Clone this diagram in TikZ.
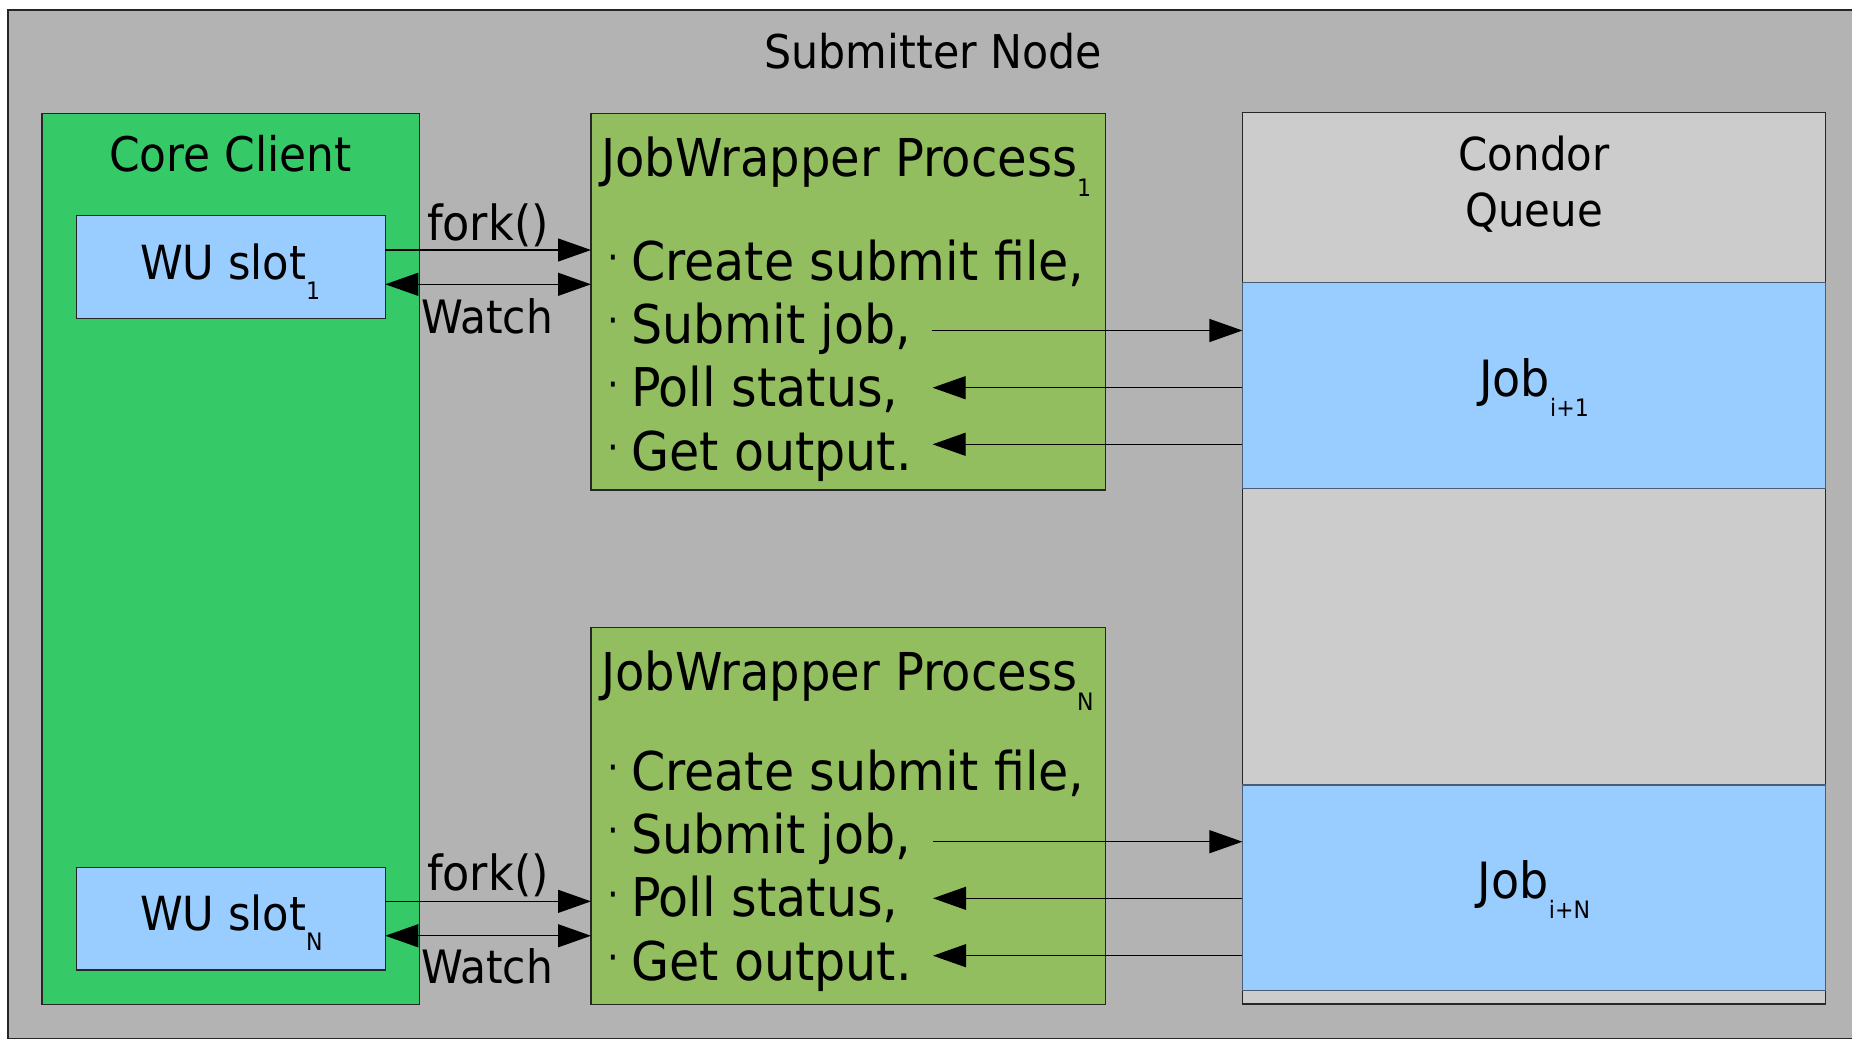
\documentclass[tikz,border=0pt]{standalone}
\usepackage{fontspec}
\setmainfont{DejaVu Sans}[FakeStretch=0.92]
\usetikzlibrary{arrows.meta}
\definecolor{outergray}{HTML}{B3B3B3}
\definecolor{coregreen}{HTML}{35C968}
\definecolor{jwgreen}{HTML}{93BE5F}
\definecolor{slotblue}{HTML}{99CCFF}
\definecolor{queuegray}{HTML}{CCCCCC}
\definecolor{bandline}{HTML}{4A5D73}
\newcommand\mysub[1]{\raisebox{-20pt}{\fontsize{24}{24}\selectfont #1}}
\newcommand\bul{\makebox[23.4pt][l]{\raisebox{8.7pt}{\fontsize{40}{40}\selectfont ·}}}
\begin{document}
\begin{tikzpicture}[x=1pt,y=-1pt,
  box/.style={draw=black!85, line width=1.2pt, rectangle, inner sep=0pt, outer sep=0pt, anchor=north west},
  band/.style={box, draw=bandline, fill=slotblue},
  txt/.style={inner sep=0pt, outer sep=0pt, text=black},
  lab/.style={txt, font=\fontsize{47}{47}\selectfont},
  body/.style={txt, font=\fontsize{53.4}{53.4}\selectfont, anchor=base west},
  arr/.style={line width=1.2pt, -{Triangle[length=33pt,width=23pt]}},
  darr/.style={line width=1.2pt, {Triangle[length=33pt,width=23pt]}-{Triangle[length=33pt,width=23pt]}}]
\useasboundingbox[fill=white] (0,0) rectangle (1852,1039);
% outer submitter node
\fill[outergray] (8,10) rectangle (1852,1038.3);
\draw[line width=1.2pt, black!85] (1852,10) -- (8,10) -- (8,1038.3) -- (1852,1038.3);
\node[lab, anchor=base, font=\fontsize{46.5}{46.5}\selectfont] (title) at (933.3,68.3) {Submitter Node};
% core client
\node[box, fill=coregreen, minimum width=377.6pt, minimum height=891pt] (core) at (42,113.3) {};
\node[lab, anchor=base, font=\fontsize{47.7}{47.7}\selectfont] (coret) at (230.5,171.7) {Core Client};
\node[box, fill=slotblue, minimum width=309pt, minimum height=103pt] (wu1) at (76.3,215.7) {};
\node[box, fill=slotblue, minimum width=309pt, minimum height=102.7pt] (wuN) at (76.3,867.3) {};
\node[lab, anchor=base west] (wu1t) at (140,279.3) {WU slot\mysub{1}};
\node[lab, anchor=base west] (wuNt) at (140,930) {WU slot\mysub{N}};
% jobwrapper boxes
\node[box, fill=jwgreen, minimum width=514.4pt, minimum height=376.7pt] (jw1) at (591,113.3) {};
\node[box, fill=jwgreen, minimum width=514.4pt, minimum height=376.6pt] (jwN) at (591,627.7) {};
\node[body, font=\fontsize{52.2}{52.2}\selectfont] (jw1t) at (601,176) {JobWrapper Process\mysub{1}};
\node[body, font=\fontsize{52.2}{52.2}\selectfont] (jwNt) at (601,690) {JobWrapper Process\mysub{N}};
\node[body] (a1) at (607.6,280) {\bul Create submit file,};
\node[body] (b1) at (607.6,343.3) {\bul Submit job,};
\node[body] (c1) at (607.6,406.7) {\bul Poll status,};
\node[body] (d1) at (607.6,470) {\bul Get output.};
\node[body] (aN) at (607.6,790) {\bul Create submit file,};
\node[body] (bN) at (607.6,853.3) {\bul Submit job,};
\node[body] (cN) at (607.6,916.7) {\bul Poll status,};
\node[body] (dN) at (607.6,980) {\bul Get output.};
% condor queue
\node[box, fill=queuegray, minimum width=583.4pt, minimum height=891.3pt] (queue) at (1242.4,112.7) {};
\node[band, minimum width=583.4pt, minimum height=205.6pt] (job1) at (1242.4,282.7) {};
\node[band, minimum width=583.4pt, minimum height=205.7pt] (jobN) at (1242.4,785) {};
\node[lab, anchor=base, font=\fontsize{45.5}{45.5}\selectfont] (qt1) at (1534,170.7) {Condor};
\node[lab, anchor=base, font=\fontsize{45.5}{45.5}\selectfont] (qt2) at (1534,226.7) {Queue};
\node[lab, anchor=base, font=\fontsize{50}{50}\selectfont] (job1t) at (1534,396) {Job\mysub{i+1}};
\node[lab, anchor=base, font=\fontsize{50}{50}\selectfont] (jobNt) at (1534,898.3) {Job\mysub{i+N}};
% fork / watch
\coordinate (f1) at ([yshift=17.2pt]wu1.east);
\coordinate (w1) at ([yshift=-17.1pt]wu1.east);
\coordinate (fN) at ([yshift=17.3pt]wuN.east);
\coordinate (wN) at ([yshift=-17.1pt]wuN.east);
\draw[arr] (f1) -- (f1 -| jw1.west);
\draw[darr] (w1) -- (w1 -| jw1.west);
\draw[arr] (fN) -- (fN -| jwN.west);
\draw[darr] (wN) -- (wN -| jwN.west);
\node[lab, anchor=base west, font=\fontsize{48.4}{48.4}\selectfont] (fk1) at (427,240.7) {fork()};
\node[lab, anchor=base west, font=\fontsize{46}{46}\selectfont] (wt1) at (421,333.3) {Watch};
\node[lab, anchor=base west, font=\fontsize{48.4}{48.4}\selectfont] (fkN) at (427,890) {fork()};
\node[lab, anchor=base west, font=\fontsize{46}{46}\selectfont] (wtN) at (421,983.3) {Watch};
% queue arrows
\coordinate (s1) at (931.7,330.5);
\coordinate (p1) at (932.6,387.7);
\coordinate (g1) at (932.6,444.3);
\coordinate (s2) at (933,841.7);
\coordinate (p2) at (933,898.3);
\coordinate (g2) at (933,955.7);
\draw[arr] (s1) -- (s1 -| job1.west);
\draw[arr] (p1 -| job1.west) -- (p1);
\draw[arr] (g1 -| job1.west) -- (g1);
\draw[arr] (s2) -- (s2 -| jobN.west);
\draw[arr] (p2 -| jobN.west) -- (p2);
\draw[arr] (g2 -| jobN.west) -- (g2);
\end{tikzpicture}
\end{document}
